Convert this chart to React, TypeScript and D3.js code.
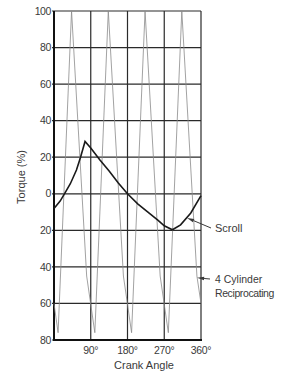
import * as d3 from "d3";

// values (crank angle in degrees, torque in %)
const recipAngles = [0, 10, 43, 80, 100, 133, 170, 190, 223, 260, 280, 313, 350, 360];
const recipTorque = [-60, -76, 100, -45, -76, 100, -45, -76, 100, -45, -76, 100, -45, -60];

const scrollAngles = [0, 15, 27, 40, 55, 65, 76, 90, 112, 135, 157, 180, 205, 230, 255, 270, 290, 310, 335, 360];
const scrollTorque = [-8, -4, 0.5, 5.5, 13, 20, 28.6, 25, 18.6, 12.5, 6, 0, -5.5, -10, -14.5, -17.5, -19.7, -17, -10.5, -1];

const yTicks = [100, 80, 60, 40, 20, 0, -20, -40, -60, -80];
const xTicks = [90, 180, 270, 360];
const xTickLabels = ["90°", "180°", "270°", "360°"];

const W = 288;
const H = 371;
const font = "'Liberation Sans', Arial, sans-serif";
const ink = "#3a3a3a";

export default function App() {
  const x = d3.scaleLinear().domain([0, 360]).range([54, 201]);
  const y = d3.scaleLinear().domain([-80, 100]).range([340, 11]);

  const line = d3
    .line<[number, number]>()
    .x((d) => x(d[0]))
    .y((d) => y(d[1]));

  const recip = line(recipAngles.map((a, i) => [a, recipTorque[i]]))!;
  const scroll = line(scrollAngles.map((a, i) => [a, scrollTorque[i]]))!;

  // annotation tips sit on the curves
  const scrollTip: [number, number] = [x(326), y(-13.2)];
  const recipTip: [number, number] = [x(350.5), y(-46)];

  const arrow = (tip: [number, number], from: [number, number]) => {
    const ang = Math.atan2(from[1] - tip[1], from[0] - tip[0]);
    const len = 7;
    const half = 1.8;
    const bx = tip[0] + Math.cos(ang) * len;
    const by = tip[1] + Math.sin(ang) * len;
    const px = -Math.sin(ang) * half;
    const py = Math.cos(ang) * half;
    return (
      <g>
        <line x1={from[0]} y1={from[1]} x2={bx} y2={by} stroke={ink} strokeWidth={1} />
        <polygon
          points={`${tip[0]},${tip[1]} ${bx + px},${by + py} ${bx - px},${by - py}`}
          fill={ink}
        />
      </g>
    );
  };

  return (
    <div style={{ position: "absolute", left: 0, top: 0 }}>
      <svg width={W} height={H} style={{ display: "block", background: "#fff" }}>
        {/* horizontal grid */}
        {yTicks.map((t) => (
          <line key={"h" + t} x1={x(0) - 2} x2={x(360)} y1={y(t)} y2={y(t)} stroke="#2a2a2a" strokeWidth={1.2} />
        ))}
        {/* vertical grid */}
        {xTicks.map((t) => (
          <line key={"v" + t} x1={x(t)} x2={x(t)} y1={y(100)} y2={y(-80)} stroke="#2a2a2a" strokeWidth={1.2} />
        ))}
        {/* frame */}
        <line x1={x(0)} x2={x(0)} y1={y(100)} y2={y(-80) + 1} stroke="#111" strokeWidth={2} />
        <line x1={x(0)} x2={x(360) + 1} y1={y(-80)} y2={y(-80)} stroke="#111" strokeWidth={2} />

        {/* 4 cylinder reciprocating */}
        <path d={recip} fill="none" stroke="#8a8a8a" strokeWidth={0.8} />
        {/* scroll */}
        <path d={scroll} fill="none" stroke="#1a1a1a" strokeWidth={1.6} />

        {/* y tick labels */}
        {yTicks.map((t) => (
          <text
            key={"yl" + t}
            x={x(0) - 3}
            y={y(t)}
            dy="0.35em"
            textAnchor="end"
            fontFamily={font}
            fontSize={10.5}
            letterSpacing={-0.4}
            fill={ink}
          >
            {Math.abs(t)}
          </text>
        ))}
        {/* x tick labels */}
        {xTicks.map((t, i) => (
          <text
            key={"xl" + t}
            x={x(t)}
            y={354}
            textAnchor="middle"
            fontFamily={font}
            fontSize={10.5}
            letterSpacing={-0.3}
            fill={ink}
          >
            {xTickLabels[i]}
          </text>
        ))}

        <text x={144} y={369} textAnchor="middle" fontFamily={font} fontSize={11} fill={ink}>
          Crank Angle
        </text>
        <text
          transform={`translate(25,177) rotate(-90)`}
          textAnchor="middle"
          fontFamily={font}
          fontSize={11}
          fill={ink}
        >
          Torque (%)
        </text>

        {/* annotations */}
        {arrow(scrollTip, [211, 228])}
        <text x={215} y={232} fontFamily={font} fontSize={11} fill={ink}>
          Scroll
        </text>
        {arrow(recipTip, [210, 279])}
        <text x={215} y={283} fontFamily={font} fontSize={10.5} fill={ink}>
          4 Cylinder
        </text>
        <text x={215} y={297} fontFamily={font} fontSize={10.5} letterSpacing={-0.4} fill={ink}>
          Reciprocating
        </text>
      </svg>
    </div>
  );
}
